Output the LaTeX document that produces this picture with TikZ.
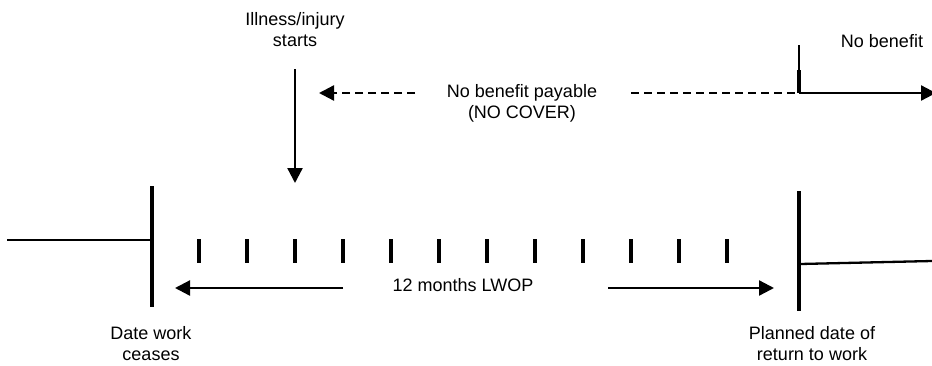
\documentclass[tikz,border=0pt]{standalone}
\usepackage{fontspec}
\setmainfont{Liberation Sans}
\usetikzlibrary{arrows.meta}
\begin{document}
\begin{tikzpicture}[x=1pt,y=-1pt,
  lbl/.style={align=center,inner sep=0pt,font=\fontsize{18}{21}\selectfont},
  bar/.style={line width=3.2pt},
  tickbar/.style={line width=3.2pt},
  plain/.style={line width=2.3pt},
  arr/.style={line width=2.3pt,-{Triangle[length=15pt,width=15pt]}},
  darr/.style={line width=2.3pt,dash pattern=on 8pt off 5pt,-{Triangle[length=15pt,width=15pt]}},
  dline/.style={line width=2.3pt,dash pattern=on 8pt off 5pt}]
\clip (0,0) rectangle (932,365);
% labels (base anchor = baseline of last line)
\node[lbl,anchor=base] (ill) at (295,46) {Illness/injury\\starts};
\node[lbl,anchor=base] (nbp) at (522,118) {No benefit payable\\(NO COVER)};
\node[lbl,anchor=base] (nb) at (882,47) {No benefit};
\node[lbl,anchor=base] (lwop) at (463,291) {12 months LWOP};
\node[lbl,anchor=base] (dwc) at (151,360) {Date work\\ceases};
\node[lbl,anchor=base] (pdr) at (812,360) {Planned date of\\return to work};
% coordinates
\coordinate (ws) at (7,240);
\coordinate (wm) at (152,240);
\coordinate (wt) at (152,186);
\coordinate (wb) at (152,307);
\coordinate (rt) at (799,191);
\coordinate (rb) at (799,311);
\coordinate (rm) at (800,264);
\coordinate (re) at (932,261);
\coordinate (la1) at (343,288);
\coordinate (la2) at (175,288);
\coordinate (ra1) at (608,288);
\coordinate (ra2) at (774,288);
\coordinate (d1) at (295,69);
\coordinate (d2) at (295,183);
\coordinate (dl1) at (415,93);
\coordinate (dl2) at (319,93);
\coordinate (dr1) at (631,93);
\coordinate (dr2) at (799,93);
\coordinate (st) at (799,45);
\coordinate (sm) at (799,70);
\coordinate (se) at (936,93);
% timeline
\draw[plain] (ws) -- (wm);
\draw[bar] (wt) -- (wb);
\draw[bar] (rt) -- (rb);
\draw[plain] (rm) -- (re);
\foreach \i in {0,...,11}{
  \coordinate (t\i a) at (199+48*\i,239);
  \coordinate (t\i b) at (199+48*\i,263);
  \draw[tickbar] (t\i a) -- (t\i b);
}
\draw[arr] (la1) -- (la2);
\draw[arr] (ra1) -- (ra2);
% illness arrow
\draw[arr] (d1) -- (d2);
% no cover
\draw[darr] (dl1) -- (dl2);
\draw[dline] (dr1) -- (dr2);
% no benefit step
\draw[line width=1.2pt] (st) -- (sm);
\draw[bar,line cap=butt] (sm) -- (dr2);
\draw[arr] (dr2) -- (se);
\end{tikzpicture}
\end{document}
